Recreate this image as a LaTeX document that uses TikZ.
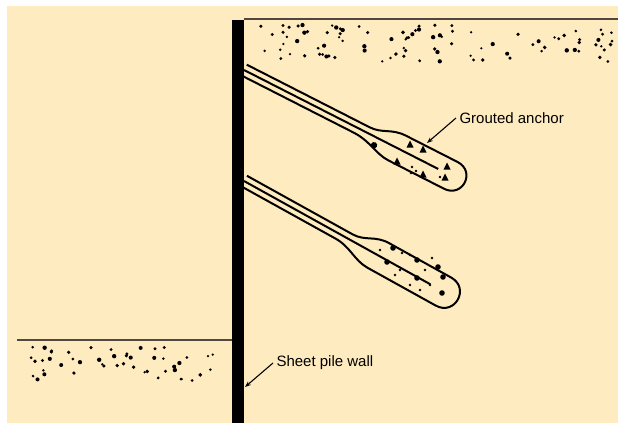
\documentclass[tikz,border=0pt]{standalone}
\usepackage{fontspec}
\setmainfont{Liberation Sans}
\usetikzlibrary{arrows.meta}

\definecolor{soil}{RGB}{254,235,192}
\definecolor{grade}{RGB}{80,72,64}

\begin{document}
\begin{tikzpicture}[
  x=1pt,
  y=-1pt,
  font=\fontsize{15}{17}\selectfont,
  tendon/.style={line width=2pt},
  grout/.style={line width=2pt, line join=round},
  leader/.style={line width=1.1pt, -{Stealth[length=6pt,width=4.5pt]}}
]

% Page and soil
\fill[white] (0,0) rectangle (623,426);
\fill[soil] (7,6) rectangle (618,423);
\useasboundingbox (0,0) rectangle (623,426);

% Ground surfaces
\draw[grade, line width=2.4pt] (244,19) -- (618,19);
\draw[grade, line width=2.4pt] (17,340) -- (232,340);

% Soil specks, retained side and excavated side
\pgfmathsetseed{42}
\foreach \i in {1,...,95} {
  \pgfmathsetmacro{\px}{252+362*rnd}
  \pgfmathsetmacro{\py}{25+37*rnd}
  \pgfmathsetmacro{\pr}{1.2+1.0*rnd}
  \fill (\px,\py) circle (\pr pt);
}
\foreach \i in {1,...,50} {
  \pgfmathsetmacro{\px}{20+202*rnd}
  \pgfmathsetmacro{\py}{346+35*rnd}
  \pgfmathsetmacro{\pr}{1.2+1.0*rnd}
  \fill (\px,\py) circle (\pr pt);
}

% Sheet pile wall
\fill (232,20) rectangle (244,423);

% Upper anchor
\begin{scope}[shift={(244,70)}, rotate=-27]
  \draw[grout] (0,-6) -- (138,-6) .. controls (152,-6) and (158,-15) .. (174,-15)
    -- (232,-15) .. controls (253,-15) and (253,15) .. (232,15)
    -- (170,15) .. controls (155,15) and (145,6) .. (126,6) -- (0,6);
  \draw[tendon] (0,0) -- (218,0);
  \fill (150,8) circle (3.2pt);
\end{scope}

% Lower anchor
\begin{scope}[shift={(244,181)}, rotate=-29]
  \draw[grout] (0,-6) -- (121,-6) .. controls (135,-6) and (141,-16) .. (157,-16)
    -- (228,-16) .. controls (250,-16) and (250,16) .. (228,16)
    -- (150,16) .. controls (135,16) and (125,6) .. (108,6) -- (0,6);
  \draw[tendon] (0,0) -- (213,0);
\end{scope}

% Aggregate in the grout bulbs
\foreach \x/\y in {410/145,423/150,397/162,423/175,447/167,445/178} {
  \fill (\x-3.5,\y+2.5) -- (\x+3.5,\y+2.5) -- (\x,\y-4.5) -- cycle;
}
\foreach \x/\y in {412/167,416/171,411/173,440/177} {
  \fill (\x,\y) circle (1.4pt);
}
\foreach \x/\y in {393/248,387/262,417/260,438/267,443/277,442/293,417/278} {
  \fill (\x,\y) circle (2.8pt);
}
\foreach \x/\y in {410/255,402/253,425/270,400/270,430/285,410/285,395/275,380/250,420/290,432/258} {
  \fill (\x,\y) circle (1.4pt);
}

% Labels
\node[anchor=west] (anchorlbl) at (456,118) {Grouted anchor};
\coordinate (anchortip) at (427,143);
\draw[leader] (anchorlbl.west) -- (anchortip);

\node[anchor=west] (walllbl) at (273,363) {Sheet pile wall};
\coordinate (wallpt) at (245,387);
\draw[leader] (walllbl.west) -- (wallpt);

\end{tikzpicture}
\end{document}
